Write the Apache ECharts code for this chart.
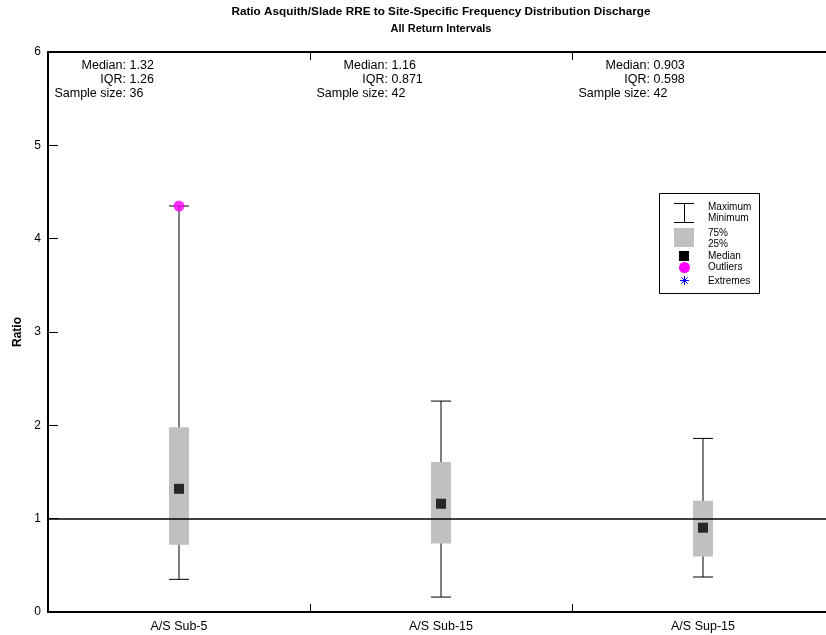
<!DOCTYPE html>
<html>
<head>
<meta charset="utf-8">
<script src="https://cdn.jsdelivr.net/npm/echarts@6/dist/echarts.min.js"></script>
<style>html,body{margin:0;padding:0;background:#fff;}#c{width:826px;height:635px;}</style>
</head>
<body>
<div id="c"></div>
<script>
// ---- data ----
const categories = ['A/S Sub-5', 'A/S Sub-15', 'A/S Sup-15'];
const whiskerMin = [0.35, 0.16, 0.375];
const quartile1 = [0.72, 0.735, 0.595];
const medians = [1.32, 1.16, 0.903];
const quartile3 = [1.98, 1.606, 1.193];
const whiskerMax = [4.35, 2.26, 1.86];
const outliers = [[0, 4.35]];
const medianLabels = ['1.32', '1.16', '0.903'];
const iqrLabels = ['1.26', '0.871', '0.598'];
const sampleSizes = [36, 42, 42];
const yTicks = [0, 1, 2, 3, 4, 5, 6];
const referenceRatio = 1;
const titleText = 'Ratio Asquith/Slade RRE to Site-Specific Frequency Distribution Discharge';
const subtitleText = 'All Return Intervals';

const FONT = '"Liberation Sans", Arial, Helvetica, sans-serif';
const chart = echarts.init(document.getElementById('c'), null, {renderer: 'canvas'});

const boxData = categories.map((c, i) => [i, whiskerMin[i], quartile1[i], medians[i], quartile3[i], whiskerMax[i]]);
const medianData = categories.map((c, i) => [i, medians[i]]);
const annotData = categories.map((c, i) => [i, yTicks[yTicks.length - 1]]);

function renderBox(params, api) {
  const idx = api.value(0);
  const pMin = api.coord([idx, api.value(1)]);
  const pQ1 = api.coord([idx, api.value(2)]);
  const pQ3 = api.coord([idx, api.value(4)]);
  const pMax = api.coord([idx, api.value(5)]);
  const x = pMin[0];
  const hw = 10;
  const ls = {stroke: '#000', lineWidth: 1};
  return {
    type: 'group',
    children: [
      {type: 'line', shape: {x1: x, y1: pMin[1], x2: x, y2: pMax[1]}, style: ls},
      {type: 'line', shape: {x1: x - hw, y1: pMin[1], x2: x + hw, y2: pMin[1]}, style: ls},
      {type: 'line', shape: {x1: x - hw, y1: pMax[1], x2: x + hw, y2: pMax[1]}, style: ls},
      {type: 'rect', shape: {x: x - hw, y: pQ3[1], width: 2 * hw, height: pQ1[1] - pQ3[1]}, style: {fill: '#c0c0c0'}}
    ]
  };
}

function renderAnnot(params, api) {
  const idx = api.value(0);
  const top = api.coord([idx, api.value(1)]);
  const bw = api.size([1, 0])[0];
  const x0 = top[0] - bw / 2;
  const i = params.dataIndex;
  const lx = x0 + 78, vx = x0 + 81.5;
  const rows = [['Median:', medianLabels[i], 66], ['IQR:', iqrLabels[i], 80], ['Sample size:', String(sampleSizes[i]), 94]];
  const children = [];
  rows.forEach(r => {
    children.push({type: 'text', style: {text: r[0], x: lx, y: r[2], align: 'right', verticalAlign: 'middle', fill: '#000', fontSize: 12.5, fontFamily: FONT}});
    children.push({type: 'text', style: {text: r[1], x: vx, y: r[2], align: 'left', verticalAlign: 'middle', fill: '#000', fontSize: 12.5, fontFamily: FONT}});
  });
  return {type: 'group', children};
}

// legend graphic
const legendX = 659, legendY = 193;
const lt = (t, y) => ({type: 'text', style: {text: t, x: 708, y: y, verticalAlign: 'middle', fill: '#000', fontSize: 10, fontFamily: FONT}});
const legendGraphic = {
  type: 'group', children: [
    {type: 'rect', shape: {x: legendX + 0.5, y: legendY + 0.5, width: 100, height: 100}, style: {fill: '#fff', stroke: '#000', lineWidth: 1}},
    {type: 'line', shape: {x1: 674, y1: 203.5, x2: 694, y2: 203.5}, style: {stroke: '#000', lineWidth: 1}},
    {type: 'line', shape: {x1: 684.5, y1: 203.5, x2: 684.5, y2: 222.5}, style: {stroke: '#000', lineWidth: 1}},
    {type: 'line', shape: {x1: 674, y1: 222.5, x2: 694, y2: 222.5}, style: {stroke: '#000', lineWidth: 1}},
    {type: 'rect', shape: {x: 674, y: 228, width: 20, height: 19}, style: {fill: '#c0c0c0'}},
    {type: 'rect', shape: {x: 679, y: 251, width: 10, height: 10}, style: {fill: '#000'}},
    {type: 'circle', shape: {cx: 684.5, cy: 267.5, r: 5.5}, style: {fill: '#ff00ff'}},
    {type: 'line', shape: {x1: 680, y1: 280.5, x2: 689, y2: 280.5}, style: {stroke: '#0000ff', lineWidth: 1}},
    {type: 'line', shape: {x1: 684.5, y1: 276, x2: 684.5, y2: 285}, style: {stroke: '#0000ff', lineWidth: 1}},
    {type: 'line', shape: {x1: 681.3, y1: 277.3, x2: 687.7, y2: 283.7}, style: {stroke: '#0000ff', lineWidth: 1}},
    {type: 'line', shape: {x1: 681.3, y1: 283.7, x2: 687.7, y2: 277.3}, style: {stroke: '#0000ff', lineWidth: 1}},
    lt('Maximum', 207), lt('Minimum', 218), lt('75%', 233), lt('25%', 244),
    lt('Median', 256), lt('Outliers', 267), lt('Extremes', 281)
  ]
};

const option = {
  backgroundColor: '#fff',
  animation: false,
  textStyle: {fontFamily: FONT},
  graphic: [
    {type: 'text', style: {text: titleText, x: 441, y: 12, align: 'center', verticalAlign: 'middle', fill: '#000', fontSize: 11.75, fontWeight: 'bold', fontFamily: FONT}},
    {type: 'text', style: {text: subtitleText, x: 441, y: 29, align: 'center', verticalAlign: 'middle', fill: '#000', fontSize: 11, fontWeight: 'bold', fontFamily: FONT}},
    legendGraphic
  ],
  grid: {left: 48, top: 52, width: 786, height: 560, containLabel: false, outerBoundsMode: 'none'},
  xAxis: [
    {type: 'category', data: categories, position: 'bottom', boundaryGap: true,
      axisLine: {show: true, lineStyle: {color: '#000', width: 2}},
      axisTick: {show: true, inside: true, length: 8, lineStyle: {color: '#000', width: 1}},
      axisLabel: {color: '#000', fontSize: 12.5, margin: 8, fontFamily: FONT},
      splitLine: {show: false}},
    {type: 'category', data: categories, position: 'top', boundaryGap: true,
      axisLine: {show: true, lineStyle: {color: '#000', width: 2}},
      axisTick: {show: true, inside: true, length: 8, lineStyle: {color: '#000', width: 1}},
      axisLabel: {show: false}, splitLine: {show: false}}
  ],
  yAxis: {type: 'value', min: yTicks[0], max: yTicks[yTicks.length - 1], interval: 1,
    name: 'Ratio', nameLocation: 'middle', nameGap: 24,
    nameTextStyle: {color: '#000', fontSize: 12, fontWeight: 'bold', fontFamily: FONT},
    axisLine: {show: true, lineStyle: {color: '#000', width: 2}},
    axisTick: {show: true, inside: true, length: 10, lineStyle: {color: '#000', width: 1}},
    axisLabel: {color: '#000', fontSize: 12, margin: 7, fontFamily: FONT},
    splitLine: {show: false}},
  series: [
    {type: 'custom', name: 'box', renderItem: renderBox, data: boxData, encode: {x: 0, y: [1, 2, 3, 4, 5]}, z: 2,
      markLine: {silent: true, symbol: 'none', label: {show: false}, lineStyle: {color: '#000', width: 1.5, type: 'solid'},
        data: [{yAxis: referenceRatio}]}},
    {type: 'scatter', name: 'Median', data: medianData, symbol: 'rect', symbolSize: 10, itemStyle: {color: '#000'}, z: 4},
    {type: 'scatter', name: 'Outliers', data: outliers, symbol: 'circle', symbolSize: 11, itemStyle: {color: '#ff00ff'}, z: 5},
    {type: 'custom', name: 'annot', renderItem: renderAnnot, data: annotData, encode: {x: 0, y: 1}, z: 3, silent: true}
  ]
};
chart.setOption(option);
</script>
</body>
</html>
